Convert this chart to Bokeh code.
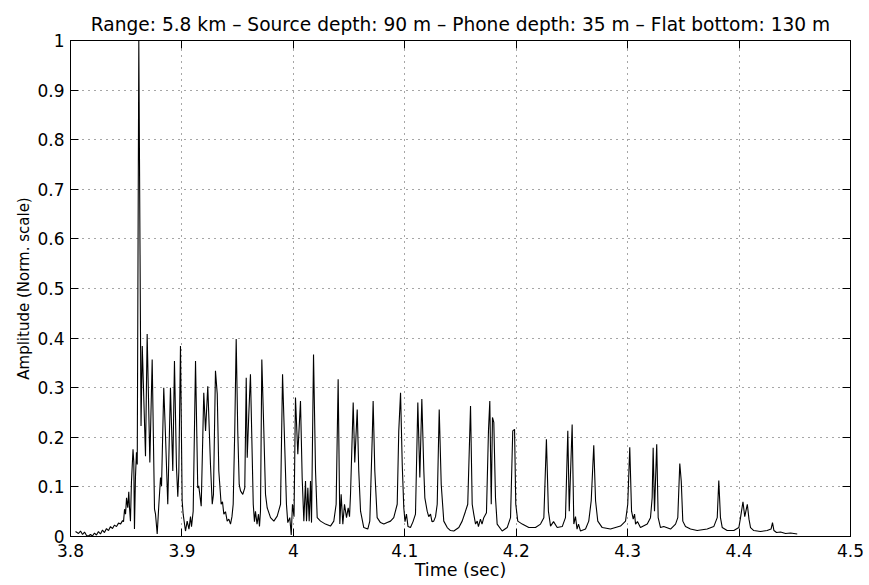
from bokeh.plotting import figure
from bokeh.models import LinearAxis, FixedTicker, Range1d, ColumnDataSource
from bokeh.embed import file_html
from bokeh.resources import INLINE

title_text = "Range: 5.8 km \u2013 Source depth: 90 m \u2013 Phone depth: 35 m \u2013 Flat bottom: 130 m"
x_label = "Time (sec)"
y_label = "Amplitude (Norm. scale)"

x_ticks = [3.8, 3.9, 4.0, 4.1, 4.2, 4.3, 4.4, 4.5]
x_tick_labels = ["3.8", "3.9", "4", "4.1", "4.2", "4.3", "4.4", "4.5"]
y_ticks = [0.0, 0.1, 0.2, 0.3, 0.4, 0.5, 0.6, 0.7, 0.8, 0.9, 1.0]
y_tick_labels = ["0", "0.1", "0.2", "0.3", "0.4", "0.5", "0.6", "0.7", "0.8", "0.9", "1"]

time_sec = [
    3.8045, 3.8072, 3.8090, 3.8108, 3.8126, 3.8144, 3.8162, 3.8179, 3.8197, 3.8215,
    3.8233, 3.8251, 3.8269, 3.8287, 3.8305, 3.8323, 3.8341, 3.8359, 3.8377, 3.8395,
    3.8413, 3.8431, 3.8449, 3.8467, 3.8476, 3.8485, 3.8494, 3.8503, 3.8514, 3.8523,
    3.8529, 3.8538, 3.8547, 3.8561, 3.8568, 3.8574, 3.8583, 3.8592, 3.8599, 3.8613,
    3.8633, 3.8644, 3.8673, 3.8688, 3.8712, 3.8733, 3.8754, 3.8763, 3.8778, 3.8792,
    3.8808, 3.8817, 3.8837, 3.8853, 3.8873, 3.8897, 3.8918, 3.8933, 3.8951, 3.8963,
    3.8972, 3.8987, 3.9002, 3.9011, 3.9032, 3.9047, 3.9063, 3.9077, 3.9086, 3.9101,
    3.9122, 3.9142, 3.9151, 3.9173, 3.9196, 3.9212, 3.9232, 3.9256, 3.9272, 3.9283,
    3.9301, 3.9317, 3.9331, 3.9352, 3.9364, 3.9376, 3.9391, 3.9406, 3.9421, 3.9436,
    3.9449, 3.9460, 3.9474, 3.9487, 3.9501, 3.9514, 3.9526, 3.9546, 3.9564, 3.9577,
    3.9586, 3.9600, 3.9615, 3.9631, 3.9640, 3.9651, 3.9660, 3.9674, 3.9687, 3.9696,
    3.9705, 3.9717, 3.9735, 3.9750, 3.9765, 3.9795, 3.9825, 3.9855, 3.9885, 3.9903,
    3.9923, 3.9938, 3.9950, 3.9968, 3.9981, 3.9992, 4.0006, 4.0019, 4.0040, 4.0064,
    4.0079, 4.0094, 4.0109, 4.0118, 4.0130, 4.0142, 4.0154, 4.0163, 4.0181, 4.0199,
    4.0214, 4.0244, 4.0288, 4.0333, 4.0363, 4.0384, 4.0402, 4.0417, 4.0429, 4.0444,
    4.0459, 4.0477, 4.0492, 4.0504, 4.0513, 4.0537, 4.0551, 4.0573, 4.0587, 4.0603,
    4.0632, 4.0668, 4.0686, 4.0708, 4.0716, 4.0731, 4.0752, 4.0782, 4.0812, 4.0842,
    4.0872, 4.0901, 4.0932, 4.0946, 4.0962, 4.0977, 4.0991, 4.1002, 4.1015, 4.1029,
    4.1051, 4.1074, 4.1096, 4.1117, 4.1135, 4.1153, 4.1171, 4.1180, 4.1201, 4.1215,
    4.1231, 4.1244, 4.1260, 4.1276, 4.1291, 4.1309, 4.1327, 4.1350, 4.1381, 4.1410,
    4.1440, 4.1485, 4.1515, 4.1545, 4.1565, 4.1590, 4.1605, 4.1619, 4.1635, 4.1650,
    4.1661, 4.1679, 4.1693, 4.1709, 4.1733, 4.1751, 4.1763, 4.1776, 4.1787, 4.1799,
    4.1814, 4.1829, 4.1874, 4.1919, 4.1949, 4.1969, 4.1985, 4.1996, 4.2014, 4.2054,
    4.2113, 4.2173, 4.2218, 4.2248, 4.2271, 4.2289, 4.2308, 4.2335, 4.2368, 4.2413,
    4.2442, 4.2463, 4.2476, 4.2502, 4.2517, 4.2532, 4.2546, 4.2559, 4.2577, 4.2622,
    4.2651, 4.2673, 4.2696, 4.2712, 4.2732, 4.2772, 4.2846, 4.2936, 4.2981, 4.3001,
    4.3019, 4.3035, 4.3050, 4.3062, 4.3071, 4.3088, 4.3115, 4.3176, 4.3205, 4.3220,
    4.3229, 4.3241, 4.3261, 4.3274, 4.3295, 4.3324, 4.3385, 4.3430, 4.3450, 4.3468,
    4.3481, 4.3495, 4.3519, 4.3564, 4.3624, 4.3714, 4.3773, 4.3804, 4.3818, 4.3833,
    4.3849, 4.3893, 4.3953, 4.3998, 4.4013, 4.4035, 4.4051, 4.4074, 4.4089, 4.4103,
    4.4132, 4.4192, 4.4252, 4.4287, 4.4300, 4.4313, 4.4336, 4.4372, 4.4417, 4.4462,
    4.4522,
]

amplitude = [
    0.010, 0.006, 0.011, 0.004, 0.009, 0.002, 0.001, 0.004, 0.001, 0.007,
    0.003, 0.010, 0.005, 0.013, 0.008, 0.016, 0.012, 0.020, 0.016, 0.023,
    0.020, 0.027, 0.025, 0.032, 0.030, 0.055, 0.045, 0.078, 0.058, 0.090,
    0.060, 0.031, 0.110, 0.176, 0.150, 0.015, 0.120, 0.170, 0.145, 1.000,
    0.223, 0.384, 0.162, 0.408, 0.149, 0.357, 0.055, 0.045, 0.005, 0.061,
    0.119, 0.102, 0.300, 0.200, 0.065, 0.300, 0.132, 0.354, 0.140, 0.080,
    0.130, 0.384, 0.072, 0.045, 0.011, 0.031, 0.015, 0.040, 0.020, 0.051,
    0.354, 0.098, 0.102, 0.061, 0.290, 0.213, 0.303, 0.146, 0.065, 0.085,
    0.334, 0.287, 0.132, 0.065, 0.070, 0.045, 0.050, 0.031, 0.035, 0.025,
    0.040, 0.065, 0.213, 0.398, 0.213, 0.105, 0.092, 0.085, 0.098, 0.320,
    0.159, 0.246, 0.327, 0.159, 0.065, 0.030, 0.051, 0.025, 0.045, 0.020,
    0.051, 0.357, 0.213, 0.085, 0.058, 0.038, 0.031, 0.041, 0.065, 0.327,
    0.179, 0.065, 0.028, 0.038, 0.003, 0.065, 0.040, 0.280, 0.166, 0.273,
    0.119, 0.031, 0.112, 0.031, 0.098, 0.031, 0.112, 0.028, 0.367, 0.132,
    0.038, 0.031, 0.025, 0.021, 0.031, 0.065, 0.317, 0.025, 0.085, 0.025,
    0.065, 0.038, 0.058, 0.040, 0.085, 0.270, 0.149, 0.256, 0.132, 0.051,
    0.018, 0.015, 0.031, 0.200, 0.273, 0.132, 0.038, 0.028, 0.025, 0.028,
    0.031, 0.038, 0.065, 0.213, 0.290, 0.146, 0.058, 0.030, 0.045, 0.020,
    0.018, 0.030, 0.045, 0.270, 0.119, 0.277, 0.132, 0.078, 0.051, 0.040,
    0.045, 0.030, 0.031, 0.040, 0.065, 0.256, 0.105, 0.031, 0.018, 0.012,
    0.011, 0.018, 0.031, 0.051, 0.065, 0.263, 0.065, 0.045, 0.025, 0.031,
    0.020, 0.035, 0.025, 0.038, 0.048, 0.213, 0.273, 0.065, 0.240, 0.230,
    0.078, 0.025, 0.011, 0.018, 0.038, 0.213, 0.216, 0.065, 0.031, 0.025,
    0.018, 0.018, 0.025, 0.038, 0.196, 0.051, 0.021, 0.030, 0.018, 0.020,
    0.038, 0.213, 0.051, 0.226, 0.025, 0.040, 0.015, 0.025, 0.011, 0.015,
    0.031, 0.072, 0.184, 0.072, 0.031, 0.018, 0.015, 0.021, 0.031, 0.065,
    0.180, 0.051, 0.035, 0.045, 0.025, 0.030, 0.018, 0.025, 0.038, 0.078,
    0.179, 0.051, 0.186, 0.038, 0.018, 0.020, 0.015, 0.025, 0.038, 0.147,
    0.112, 0.031, 0.020, 0.015, 0.012, 0.015, 0.020, 0.038, 0.113, 0.038,
    0.018, 0.012, 0.012, 0.018, 0.038, 0.070, 0.040, 0.065, 0.035, 0.018,
    0.012, 0.010, 0.012, 0.015, 0.028, 0.012, 0.008, 0.009, 0.006, 0.007,
    0.005,
]

FONT = "DejaVu Sans"

p = figure(
    width=869, height=585,
    x_range=Range1d(x_ticks[0], x_ticks[-1]),
    y_range=Range1d(y_ticks[0], y_ticks[-1]),
    output_backend="svg", toolbar_location=None,
    min_border_left=70, min_border_right=19,
    min_border_top=40, min_border_bottom=49,
    background_fill_color="white", border_fill_color="white",
)

p.title.text = title_text
p.title.align = "center"
p.title.text_font = FONT
p.title.text_font_size = "18.6px"
p.title.text_font_style = "normal"
p.title.text_color = "black"
p.title.standoff = 12

p.outline_line_color = "black"
p.outline_line_width = 1
p.outline_line_alpha = 1

def style_axis(ax, ticks, labels, show_labels=True):
    ax.ticker = FixedTicker(ticks=ticks)
    ax.major_tick_in = 8
    ax.major_tick_out = 0
    ax.major_tick_line_color = "black"
    ax.minor_tick_line_color = None
    ax.axis_line_color = "black"
    if show_labels:
        ax.major_label_overrides = {t: l for t, l in zip(ticks, labels)}
        ax.major_label_text_font = FONT
        ax.major_label_text_color = "black"
        ax.major_label_text_font_size = "17px"
    else:
        ax.major_label_text_color = None
        ax.major_label_text_alpha = 0
        ax.major_label_text_font_size = "1px"
        ax.major_label_standoff = 0

style_axis(p.xaxis[0], x_ticks, x_tick_labels)
style_axis(p.yaxis[0], y_ticks, y_tick_labels)
p.xaxis[0].major_label_standoff = 7
p.yaxis[0].major_label_standoff = 6

p.xaxis[0].axis_label = x_label
p.xaxis[0].axis_label_text_font = FONT
p.xaxis[0].axis_label_text_font_size = "17.5px"
p.xaxis[0].axis_label_text_font_style = "normal"
p.xaxis[0].axis_label_text_color = "black"
p.xaxis[0].axis_label_standoff = 0

p.yaxis[0].axis_label = y_label
p.yaxis[0].axis_label_text_font = FONT
p.yaxis[0].axis_label_text_font_size = "15px"
p.yaxis[0].axis_label_text_font_style = "normal"
p.yaxis[0].axis_label_text_color = "black"
p.yaxis[0].axis_label_standoff = 1

right_ax = LinearAxis()
style_axis(right_ax, y_ticks, y_tick_labels, show_labels=False)
p.add_layout(right_ax, "right")
top_ax = LinearAxis()
style_axis(top_ax, x_ticks, x_tick_labels, show_labels=False)
p.add_layout(top_ax, "above")

for g, ticks in ((p.xgrid[0], x_ticks), (p.ygrid[0], y_ticks)):
    g.ticker = FixedTicker(ticks=ticks[1:-1])
    g.grid_line_color = "black"
    g.grid_line_alpha = 0.7
    g.grid_line_dash = "1 5"
    g.grid_line_width = 1

src = ColumnDataSource(data=dict(t=time_sec, a=amplitude))
p.line("t", "a", source=src, line_color="black", line_width=1.1)

open("out.html", "w").write(file_html(p, INLINE))
